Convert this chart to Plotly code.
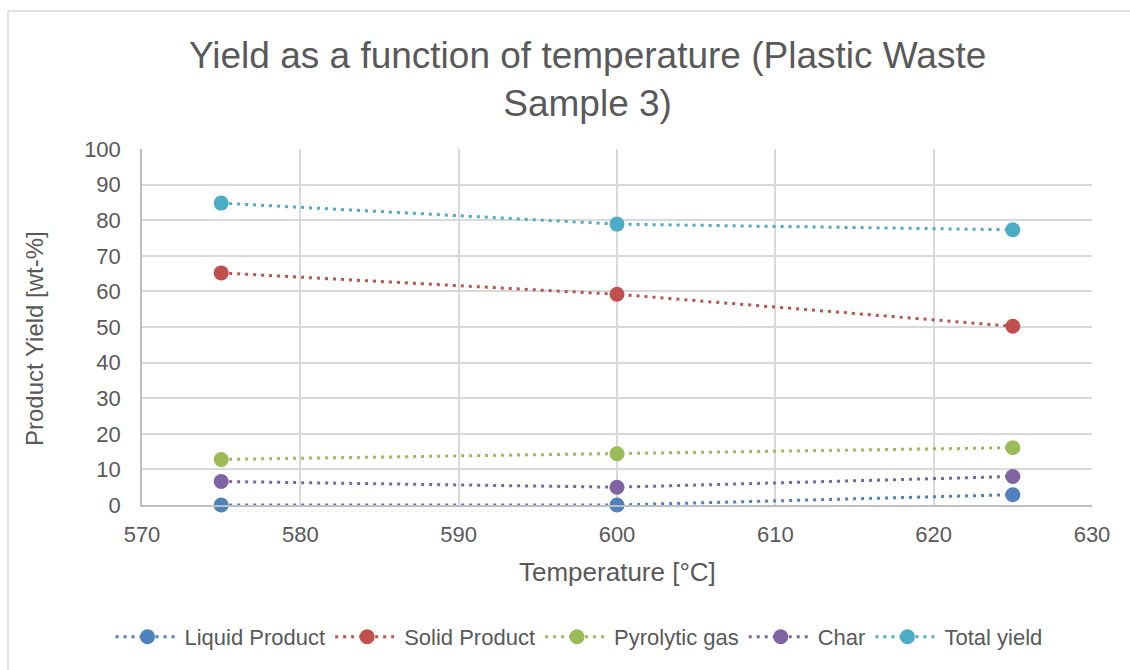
import plotly.graph_objects as go

temperature = [575, 600, 625]
liquid_product = [0.0, 0.0, 2.9]
solid_product = [65.2, 59.2, 50.2]
pyrolytic_gas = [12.8, 14.4, 16.1]
char = [6.6, 5.0, 8.0]
total_yield = [84.8, 78.9, 77.3]

series_names = ["Liquid Product", "Solid Product", "Pyrolytic gas", "Char", "Total yield"]
series_values = [liquid_product, solid_product, pyrolytic_gas, char, total_yield]
series_colors = ["#4F81BD", "#C0504D", "#9BBB59", "#8064A2", "#4BACC6"]

x_ticks = [570, 580, 590, 600, 610, 620, 630]
y_ticks = [0, 10, 20, 30, 40, 50, 60, 70, 80, 90, 100]

W, H = 1130, 670
L, R, T, B = 142, 1092, 149, 505
pw, ph = R - L, B - T

def px(x):
    return (x - L) / pw

def py(y):
    return (B - y) / ph

FONT = "Liberation Sans, Arial, sans-serif"
GREY = "#595959"

fig = go.Figure()
for name, vals, col in zip(series_names, series_values, series_colors):
    fig.add_trace(go.Scatter(
        x=temperature, y=vals, name=name, mode="lines+markers",
        line=dict(color=col, width=3, dash="3px,5px"),
        marker=dict(color=col, size=15),
        cliponaxis=False,
    ))

fig.update_layout(
    width=W, height=H,
    margin=dict(l=L, r=W - R, t=T, b=H - B, autoexpand=False),
    paper_bgcolor="white", plot_bgcolor="white",
    font=dict(family=FONT, color=GREY, size=22),
    showlegend=True,
    legend=dict(orientation="h", xref="container", yref="container",
                xanchor="center", yanchor="middle",
                x=579 / W, y=1 - 637 / H, font=dict(size=22, color=GREY),
                itemwidth=64, tracegroupgap=0, bgcolor="rgba(0,0,0,0)"),
    xaxis=dict(range=[570, 630], tickvals=x_ticks, showgrid=True,
               gridcolor="#D9D9D9", gridwidth=1.5, zeroline=False,
               showline=True, linecolor="#BFBFBF", linewidth=1.5,
               ticks="", tickfont=dict(size=22, color=GREY),
               ticklabelstandoff=9),
    yaxis=dict(range=[0, 100], tickvals=y_ticks, showgrid=True,
               gridcolor="#D9D9D9", gridwidth=1.5, zeroline=False,
               showline=True, linecolor="#BFBFBF", linewidth=1.5,
               ticks="", tickfont=dict(size=22, color=GREY),
               ticklabelstandoff=15),
)

# chart title
fig.add_annotation(text="Yield as a function of temperature (Plastic Waste<br>Sample 3)",
                   xref="paper", yref="paper", x=px(587), y=py(79),
                   xanchor="center", yanchor="middle", showarrow=False,
                   font=dict(size=37, color=GREY, family=FONT))
# axis titles
fig.add_annotation(text="Temperature [°C]", xref="paper", yref="paper",
                   x=px(617), y=py(572), xanchor="center", yanchor="middle",
                   showarrow=False, font=dict(size=26, color=GREY, family=FONT))
fig.add_annotation(text="Product Yield [wt-%]", xref="paper", yref="paper",
                   x=px(34), y=py(339), xanchor="center", yanchor="middle",
                   textangle=-90, showarrow=False,
                   font=dict(size=24, color=GREY, family=FONT))

# chart border
fig.add_shape(type="rect", xref="paper", yref="paper",
              x0=px(8), x1=px(1166), y0=py(690), y1=py(11),
              line=dict(color="#D9D9D9", width=1.5), layer="below")

fig.write_html("out.html")
